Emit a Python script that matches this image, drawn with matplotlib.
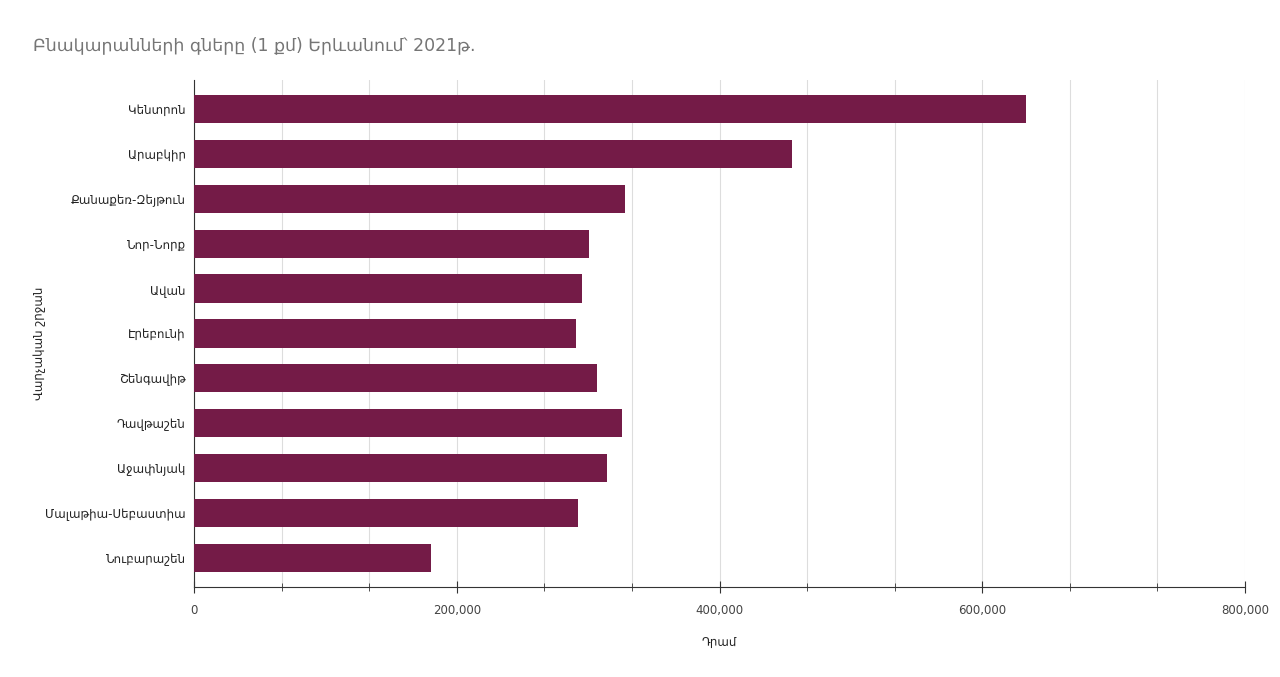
import matplotlib.pyplot as plt
import matplotlib.ticker as mticker
import numpy as np

# districts, top to bottom
districts = ['Կենտրոն', 'Արաբկիր', 'Քանաքեռ-Զեյթուն', 'Նոր-Նորք', 'Ավան', 'Էրեբունի',
             'Շենգավիթ', 'Դավթաշեն', 'Աջափնյակ', 'Մալաթիա-Սեբաստիա', 'Նուբարաշեն']
# price per square metre, AMD
prices = [633000, 455000, 328000, 301000, 295000, 290500, 306500, 325500, 314000, 292000, 180300]

title = 'Բնակարանների գները (1 քմ) Երևանում՝ 2021թ.'
xlabel = 'Դրամ'
ylabel = 'Վարչական շրջան'

plt.rcParams['font.family'] = ['DejaVu Sans']

fig = plt.figure(figsize=(12.8, 6.77), dpi=100)
ax = fig.add_axes([0.1516, 0.133, 0.8211, 0.7488])

y = np.arange(len(districts))
ax.barh(y, prices, height=0.63, color='#741b47', zorder=3)

ax.set_ylim(len(districts) - 0.35, -0.65)
ax.set_xlim(0, 800000)
ax.set_yticks(y)
ax.set_yticklabels(districts, fontsize=8.5, color='#222222')
ax.tick_params(axis='y', length=0, pad=6)

ax.xaxis.set_major_locator(mticker.MultipleLocator(200000))
ax.xaxis.set_minor_locator(mticker.MultipleLocator(200000 / 3))
ax.xaxis.set_major_formatter(mticker.FuncFormatter(lambda v, p: '{:,.0f}'.format(v)))
ax.tick_params(axis='x', which='major', labelsize=8.5, labelcolor='#444444', direction='inout',
               length=8, color='#333333', pad=8)
ax.tick_params(axis='x', which='minor', direction='inout', length=6, color='#333333')
ax.grid(axis='x', which='both', color='#dddddd', linewidth=0.8, zorder=0)

for s in ['top', 'right']:
    ax.spines[s].set_visible(False)
ax.spines['left'].set_color('#333333')
ax.spines['bottom'].set_color('#333333')

ax.set_xlabel(xlabel, fontsize=8.5, color='#222222', labelpad=14)
ax.set_ylabel(ylabel, fontsize=8.5, color='#222222')
ax.yaxis.set_label_coords(-0.141, 0.48)

fig.text(0.026, 0.933, title, fontsize=12.5, color='#757575', va='center', ha='left')

fig.savefig('out.png', dpi=100)
